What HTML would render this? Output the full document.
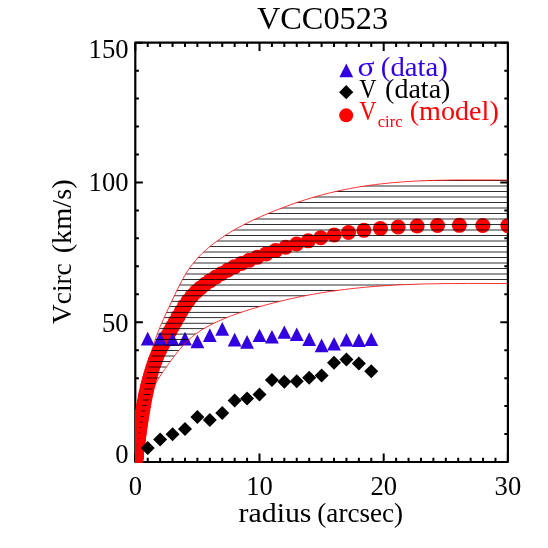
<!DOCTYPE html><html><head><meta charset="utf-8"><title>VCC0523</title><style>html,body{margin:0;padding:0;background:#fff;}svg{display:block;}text{font-family:"Liberation Serif",serif;}</style></head><body>
<svg style="will-change:transform" width="548" height="548" viewBox="0 0 548 548">
<rect width="548" height="548" fill="#fff"/>
<defs>
<clipPath id="box"><rect x="135.0" y="42.70" width="372.80" height="419.60"/></clipPath>
<clipPath id="env"><polygon points="135.67,458.95 135.68,458.88 135.69,458.82 135.70,458.76 135.71,458.69 135.72,458.62 135.73,458.54 135.74,458.46 135.75,458.38 135.76,458.29 135.77,458.19 135.78,458.09 135.79,457.99 135.80,457.87 135.81,457.76 135.83,457.63 135.84,457.51 135.85,457.37 135.86,457.23 135.88,457.09 135.89,456.94 135.91,456.79 135.92,456.63 135.93,456.46 135.95,456.30 135.96,456.13 135.98,455.95 136.00,455.77 136.01,455.59 136.03,455.40 136.05,455.21 136.06,455.01 136.08,454.82 136.10,454.62 136.12,454.41 136.14,454.20 136.16,454.00 136.18,453.78 136.20,453.57 136.22,453.35 136.24,453.13 136.26,452.91 136.28,452.69 136.31,452.46 136.33,452.23 136.35,452.00 136.38,451.77 136.40,451.54 136.43,451.30 136.46,451.06 136.48,450.81 136.51,450.57 136.54,450.31 136.57,450.05 136.60,449.79 136.63,449.51 136.66,449.23 136.69,448.94 136.72,448.64 136.76,448.34 136.79,448.02 136.83,447.70 136.86,447.36 136.90,447.02 136.93,446.67 136.97,446.31 137.01,445.94 137.05,445.56 137.09,445.17 137.13,444.78 137.18,444.38 137.22,443.97 137.27,443.55 137.31,443.13 137.36,442.70 137.41,442.26 137.46,441.82 137.51,441.36 137.56,440.90 137.61,440.43 137.67,439.95 137.72,439.46 137.78,438.96 137.84,438.45 137.89,437.92 137.96,437.39 138.02,436.83 138.08,436.27 138.15,435.69 138.21,435.10 138.28,434.49 138.35,433.87 138.42,433.23 138.49,432.58 138.57,431.92 138.65,431.25 138.72,430.56 138.80,429.86 138.89,429.15 138.97,428.42 139.05,427.68 139.14,426.93 139.23,426.16 139.32,425.38 139.42,424.58 139.51,423.77 139.61,422.94 139.71,422.10 139.82,421.24 139.92,420.37 140.03,419.48 140.14,418.57 140.25,417.65 140.37,416.71 140.49,415.75 140.61,414.78 140.73,413.79 140.86,412.78 140.99,411.75 141.12,410.71 141.26,409.65 141.40,408.58 141.54,407.49 141.69,406.38 141.84,405.26 141.99,404.12 142.15,402.96 142.31,401.79 142.47,400.59 142.64,399.38 142.81,398.15 142.98,396.90 143.16,395.63 143.35,394.34 143.54,393.04 143.73,391.72 143.93,390.38 144.13,389.03 144.33,387.67 144.54,386.30 144.76,384.92 144.98,383.53 145.21,382.14 145.44,380.75 145.68,379.35 145.92,377.96 146.17,376.56 146.42,375.16 146.68,373.76 146.95,372.36 147.22,370.96 147.50,369.56 147.78,368.16 148.07,366.75 148.37,365.35 148.68,363.94 148.99,362.52 149.31,361.10 149.64,359.68 149.97,358.25 150.32,356.82 150.67,355.39 151.03,353.95 151.40,352.52 151.77,351.10 152.16,349.68 152.55,348.27 152.95,346.86 153.37,345.47 153.79,344.08 154.22,342.70 154.66,341.33 155.12,339.97 155.58,338.61 156.05,337.26 156.54,335.91 157.03,334.57 157.54,333.22 158.06,331.88 158.59,330.53 159.14,329.18 159.69,327.82 160.26,326.45 160.85,325.08 161.45,323.69 162.06,322.29 162.68,320.88 163.32,319.44 163.98,317.99 164.65,316.51 165.33,315.01 166.03,313.48 166.75,311.92 167.49,310.32 168.24,308.70 169.01,307.04 169.80,305.35 170.60,303.62 171.43,301.85 172.27,300.06 173.14,298.22 174.02,296.36 174.93,294.46 175.85,292.54 176.80,290.59 177.77,288.62 178.76,286.64 179.78,284.65 180.82,282.67 181.88,280.68 182.97,278.71 184.09,276.76 185.23,274.82 186.39,272.92 187.59,271.05 188.81,269.21 190.06,267.41 191.34,265.65 192.65,263.93 193.99,262.25 195.36,260.61 196.77,259.00 198.20,257.42 199.67,255.87 201.18,254.35 202.72,252.86 204.29,251.39 205.90,249.94 207.56,248.51 209.24,247.09 210.97,245.69 212.74,244.29 214.55,242.91 216.40,241.53 218.30,240.16 220.24,238.79 222.22,237.43 224.25,236.07 226.33,234.72 228.46,233.37 230.64,232.03 232.87,230.70 235.15,229.38 237.48,228.07 239.87,226.77 242.31,225.47 244.81,224.18 247.37,222.90 249.99,221.62 252.67,220.34 255.42,219.06 258.22,217.79 261.10,216.51 264.04,215.22 267.05,213.94 270.13,212.65 273.28,211.36 276.50,210.07 279.80,208.78 283.18,207.48 286.63,206.19 290.17,204.90 293.79,203.62 297.50,202.34 301.29,201.08 305.17,199.82 309.14,198.58 313.20,197.36 317.36,196.17 321.61,195.00 325.97,193.86 330.42,192.74 334.98,191.67 339.65,190.63 344.43,189.63 349.31,188.66 354.31,187.75 359.43,186.87 364.67,186.05 370.03,185.27 375.52,184.55 381.13,183.87 386.88,183.26 392.76,182.69 398.78,182.19 404.93,181.74 411.24,181.34 417.68,181.00 424.28,180.72 431.04,180.49 437.95,180.30 445.02,180.16 452.26,180.07 459.67,180.00 467.25,179.97 475.01,179.97 482.95,179.98 491.08,180.01 499.39,180.05 507.90,180.09 507.90,283.53 499.39,283.51 491.08,283.49 482.95,283.48 475.01,283.48 467.25,283.48 459.67,283.51 452.26,283.55 445.02,283.62 437.95,283.71 431.04,283.83 424.28,283.98 417.68,284.16 411.24,284.38 404.93,284.62 398.78,284.91 392.76,285.23 386.88,285.58 381.13,285.96 375.52,286.38 370.03,286.83 364.67,287.31 359.43,287.81 354.31,288.35 349.31,288.91 344.43,289.50 339.65,290.11 334.98,290.74 330.42,291.40 325.97,292.08 321.61,292.78 317.36,293.50 313.20,294.23 309.14,294.99 305.17,295.75 301.29,296.53 297.50,297.32 293.79,298.11 290.17,298.92 286.63,299.73 283.18,300.54 279.80,301.35 276.50,302.17 273.28,302.99 270.13,303.80 267.05,304.62 264.04,305.43 261.10,306.25 258.22,307.06 255.42,307.87 252.67,308.68 249.99,309.49 247.37,310.30 244.81,311.12 242.31,311.93 239.87,312.76 237.48,313.58 235.15,314.42 232.87,315.25 230.64,316.10 228.46,316.95 226.33,317.80 224.25,318.66 222.22,319.52 220.24,320.38 218.30,321.25 216.40,322.12 214.55,323.00 212.74,323.87 210.97,324.76 209.24,325.65 207.56,326.55 205.90,327.46 204.29,328.38 202.72,329.31 201.18,330.26 199.67,331.23 198.20,332.21 196.77,333.22 195.36,334.24 193.99,335.29 192.65,336.36 191.34,337.46 190.06,338.57 188.81,339.71 187.59,340.86 186.39,342.03 185.23,343.22 184.09,344.41 182.97,345.61 181.88,346.82 180.82,348.04 179.78,349.25 178.76,350.48 177.77,351.70 176.80,352.92 175.85,354.13 174.93,355.34 174.02,356.53 173.14,357.71 172.27,358.88 171.43,360.03 170.60,361.15 169.80,362.26 169.01,363.34 168.24,364.41 167.49,365.45 166.75,366.47 166.03,367.47 165.33,368.45 164.65,369.42 163.98,370.37 163.32,371.30 162.68,372.23 162.06,373.14 161.45,374.05 160.85,374.95 160.26,375.85 159.69,376.74 159.14,377.64 158.59,378.53 158.06,379.43 157.54,380.33 157.03,381.23 156.54,382.13 156.05,383.04 155.58,383.96 155.12,384.88 154.66,385.81 154.22,386.74 153.79,387.67 153.37,388.61 152.95,389.56 152.55,390.51 152.16,391.46 151.77,392.41 151.40,393.36 151.03,394.32 150.67,395.27 150.32,396.21 149.97,397.15 149.64,398.08 149.31,399.01 148.99,399.92 148.68,400.83 148.37,401.73 148.07,402.63 147.78,403.51 147.50,404.40 147.22,405.28 146.95,406.16 146.68,407.03 146.42,407.91 146.17,408.78 145.92,409.65 145.68,410.52 145.44,411.39 145.21,412.26 144.98,413.13 144.76,413.99 144.54,414.85 144.33,415.70 144.13,416.55 143.93,417.39 143.73,418.22 143.54,419.05 143.35,419.86 143.16,420.66 142.98,421.45 142.81,422.23 142.64,423.00 142.47,423.75 142.31,424.50 142.15,425.23 141.99,425.95 141.84,426.66 141.69,427.36 141.54,428.05 141.40,428.73 141.26,429.40 141.12,430.05 140.99,430.70 140.86,431.34 140.73,431.97 140.61,432.59 140.49,433.19 140.37,433.79 140.25,434.38 140.14,434.95 140.03,435.52 139.92,436.07 139.82,436.61 139.71,437.15 139.61,437.67 139.51,438.19 139.42,438.69 139.32,439.19 139.23,439.68 139.14,440.15 139.05,440.62 138.97,441.08 138.89,441.54 138.80,441.98 138.72,442.42 138.65,442.84 138.57,443.26 138.49,443.68 138.42,444.08 138.35,444.48 138.28,444.86 138.21,445.24 138.15,445.61 138.08,445.97 138.02,446.33 137.96,446.67 137.89,447.00 137.84,447.33 137.78,447.65 137.72,447.96 137.67,448.27 137.61,448.57 137.56,448.86 137.51,449.15 137.46,449.43 137.41,449.71 137.36,449.98 137.31,450.25 137.27,450.51 137.22,450.77 137.18,451.02 137.13,451.27 137.09,451.52 137.05,451.76 137.01,452.00 136.97,452.23 136.93,452.45 136.90,452.67 136.86,452.88 136.83,453.09 136.79,453.29 136.76,453.49 136.72,453.68 136.69,453.87 136.66,454.05 136.63,454.22 136.60,454.39 136.57,454.56 136.54,454.72 136.51,454.88 136.48,455.03 136.46,455.19 136.43,455.34 136.40,455.48 136.38,455.63 136.35,455.77 136.33,455.92 136.31,456.06 136.28,456.20 136.26,456.34 136.24,456.48 136.22,456.61 136.20,456.75 136.18,456.88 136.16,457.01 136.14,457.14 136.12,457.27 136.10,457.40 136.08,457.53 136.06,457.65 136.05,457.77 136.03,457.89 136.01,458.01 136.00,458.12 135.98,458.23 135.96,458.34 135.95,458.45 135.93,458.55 135.92,458.65 135.91,458.75 135.89,458.85 135.88,458.94 135.86,459.03 135.85,459.12 135.84,459.20 135.83,459.28 135.81,459.36 135.80,459.43 135.79,459.50 135.78,459.57 135.77,459.63 135.76,459.69 135.75,459.74 135.74,459.80 135.73,459.85 135.72,459.89 135.71,459.94 135.70,459.98 135.69,460.02 135.68,460.06 135.67,460.10"/></clipPath>
</defs>
<g stroke="#000" fill="none" stroke-linecap="butt" stroke-linejoin="round">
<rect x="135.3" y="42.7" width="372.60" height="419.30" stroke-width="2.2"/>
<path d="M135.30 462.0v-8.4M135.30 42.7v8.4M147.72 462.0v-4.3M147.72 42.7v4.3M160.14 462.0v-4.3M160.14 42.7v4.3M172.56 462.0v-4.3M172.56 42.7v4.3M184.98 462.0v-4.3M184.98 42.7v4.3M197.40 462.0v-4.3M197.40 42.7v4.3M209.82 462.0v-4.3M209.82 42.7v4.3M222.24 462.0v-4.3M222.24 42.7v4.3M234.66 462.0v-4.3M234.66 42.7v4.3M247.08 462.0v-4.3M247.08 42.7v4.3M259.50 462.0v-8.4M259.50 42.7v8.4M271.92 462.0v-4.3M271.92 42.7v4.3M284.34 462.0v-4.3M284.34 42.7v4.3M296.76 462.0v-4.3M296.76 42.7v4.3M309.18 462.0v-4.3M309.18 42.7v4.3M321.60 462.0v-4.3M321.60 42.7v4.3M334.02 462.0v-4.3M334.02 42.7v4.3M346.44 462.0v-4.3M346.44 42.7v4.3M358.86 462.0v-4.3M358.86 42.7v4.3M371.28 462.0v-4.3M371.28 42.7v4.3M383.70 462.0v-8.4M383.70 42.7v8.4M396.12 462.0v-4.3M396.12 42.7v4.3M408.54 462.0v-4.3M408.54 42.7v4.3M420.96 462.0v-4.3M420.96 42.7v4.3M433.38 462.0v-4.3M433.38 42.7v4.3M445.80 462.0v-4.3M445.80 42.7v4.3M458.22 462.0v-4.3M458.22 42.7v4.3M470.64 462.0v-4.3M470.64 42.7v4.3M483.06 462.0v-4.3M483.06 42.7v4.3M495.48 462.0v-4.3M495.48 42.7v4.3M507.90 462.0v-8.4M507.90 42.7v8.4M135.3 462.00h7.6M507.9 462.00h-7.6M135.3 434.05h3.6M507.9 434.05h-3.6M135.3 406.09h3.6M507.9 406.09h-3.6M135.3 378.14h3.6M507.9 378.14h-3.6M135.3 350.19h3.6M507.9 350.19h-3.6M135.3 322.23h7.6M507.9 322.23h-7.6M135.3 294.28h3.6M507.9 294.28h-3.6M135.3 266.33h3.6M507.9 266.33h-3.6M135.3 238.37h3.6M507.9 238.37h-3.6M135.3 210.42h3.6M507.9 210.42h-3.6M135.3 182.47h7.6M507.9 182.47h-7.6M135.3 154.51h3.6M507.9 154.51h-3.6M135.3 126.56h3.6M507.9 126.56h-3.6M135.3 98.61h3.6M507.9 98.61h-3.6M135.3 70.65h3.6M507.9 70.65h-3.6M135.3 42.70h7.6M507.9 42.70h-7.6" stroke-width="2.0"/>
</g>
<g clip-path="url(#box)" fill="#ff0000">
<circle cx="135.67" cy="459.51" r="7.5"/>
<circle cx="135.70" cy="459.37" r="7.5"/>
<circle cx="135.73" cy="459.21" r="7.5"/>
<circle cx="135.76" cy="459.01" r="7.5"/>
<circle cx="135.79" cy="458.76" r="7.5"/>
<circle cx="135.83" cy="458.47" r="7.5"/>
<circle cx="135.87" cy="458.13" r="7.5"/>
<circle cx="135.91" cy="457.76" r="7.5"/>
<circle cx="135.95" cy="457.35" r="7.5"/>
<circle cx="136.00" cy="456.92" r="7.5"/>
<circle cx="136.05" cy="456.45" r="7.5"/>
<circle cx="136.10" cy="455.96" r="7.5"/>
<circle cx="136.16" cy="455.44" r="7.5"/>
<circle cx="136.22" cy="454.91" r="7.5"/>
<circle cx="136.29" cy="454.36" r="7.5"/>
<circle cx="136.36" cy="453.80" r="7.5"/>
<circle cx="136.44" cy="453.22" r="7.5"/>
<circle cx="136.52" cy="452.63" r="7.5"/>
<circle cx="136.61" cy="452.01" r="7.5"/>
<circle cx="136.70" cy="451.32" r="7.5"/>
<circle cx="136.80" cy="450.55" r="7.5"/>
<circle cx="136.91" cy="449.72" r="7.5"/>
<circle cx="137.03" cy="448.81" r="7.5"/>
<circle cx="137.15" cy="447.85" r="7.5"/>
<circle cx="137.29" cy="446.83" r="7.5"/>
<circle cx="137.43" cy="445.76" r="7.5"/>
<circle cx="137.59" cy="444.64" r="7.5"/>
<circle cx="137.75" cy="443.47" r="7.5"/>
<circle cx="137.93" cy="442.21" r="7.5"/>
<circle cx="138.12" cy="440.84" r="7.5"/>
<circle cx="138.32" cy="439.34" r="7.5"/>
<circle cx="138.54" cy="437.74" r="7.5"/>
<circle cx="138.77" cy="436.06" r="7.5"/>
<circle cx="139.03" cy="434.29" r="7.5"/>
<circle cx="139.30" cy="432.42" r="7.5"/>
<circle cx="139.58" cy="430.44" r="7.5"/>
<circle cx="139.89" cy="428.33" r="7.5"/>
<circle cx="140.23" cy="426.11" r="7.5"/>
<circle cx="140.58" cy="423.78" r="7.5"/>
<circle cx="140.96" cy="421.29" r="7.5"/>
<circle cx="141.37" cy="418.67" r="7.5"/>
<circle cx="141.81" cy="415.95" r="7.5"/>
<circle cx="142.28" cy="413.14" r="7.5"/>
<circle cx="142.79" cy="410.18" r="7.5"/>
<circle cx="143.33" cy="407.04" r="7.5"/>
<circle cx="143.91" cy="403.74" r="7.5"/>
<circle cx="144.53" cy="400.33" r="7.5"/>
<circle cx="145.20" cy="396.89" r="7.5"/>
<circle cx="145.91" cy="393.43" r="7.5"/>
<circle cx="146.68" cy="389.97" r="7.5"/>
<circle cx="147.50" cy="386.52" r="7.5"/>
<circle cx="148.38" cy="383.08" r="7.5"/>
<circle cx="149.33" cy="379.52" r="7.5"/>
<circle cx="150.34" cy="375.77" r="7.5"/>
<circle cx="151.43" cy="371.93" r="7.5"/>
<circle cx="152.59" cy="368.12" r="7.5"/>
<circle cx="153.84" cy="364.36" r="7.5"/>
<circle cx="155.18" cy="360.66" r="7.5"/>
<circle cx="156.62" cy="357.06" r="7.5"/>
<circle cx="158.16" cy="353.52" r="7.5"/>
<circle cx="159.81" cy="350.02" r="7.5"/>
<circle cx="161.59" cy="346.52" r="7.5"/>
<circle cx="163.49" cy="342.98" r="7.5"/>
<circle cx="165.52" cy="339.27" r="7.5"/>
<circle cx="167.71" cy="335.33" r="7.5"/>
<circle cx="170.05" cy="331.11" r="7.5"/>
<circle cx="172.56" cy="326.61" r="7.5"/>
<circle cx="175.25" cy="321.79" r="7.5"/>
<circle cx="178.14" cy="316.67" r="7.5"/>
<circle cx="181.24" cy="311.32" r="7.5"/>
<circle cx="184.56" cy="305.90" r="7.5"/>
<circle cx="188.12" cy="300.71" r="7.5"/>
<circle cx="191.93" cy="296.01" r="7.5"/>
<circle cx="196.02" cy="291.82" r="7.5"/>
<circle cx="200.41" cy="287.97" r="7.5"/>
<circle cx="205.12" cy="284.24" r="7.5"/>
<circle cx="210.16" cy="280.66" r="7.5"/>
<circle cx="215.57" cy="277.23" r="7.5"/>
<circle cx="221.38" cy="273.77" r="7.5"/>
<circle cx="227.60" cy="270.27" r="7.5"/>
<circle cx="234.27" cy="266.85" r="7.5"/>
<circle cx="241.42" cy="263.55" r="7.5"/>
<circle cx="249.09" cy="260.36" r="7.5"/>
<circle cx="257.31" cy="257.16" r="7.5"/>
<circle cx="266.13" cy="253.90" r="7.5"/>
<circle cx="275.58" cy="250.61" r="7.5"/>
<circle cx="285.72" cy="247.32" r="7.5"/>
<circle cx="296.59" cy="244.05" r="7.5"/>
<circle cx="308.25" cy="240.83" r="7.5"/>
<circle cx="320.74" cy="237.81" r="7.5"/>
<circle cx="334.15" cy="235.05" r="7.5"/>
<circle cx="348.52" cy="232.56" r="7.5"/>
<circle cx="363.92" cy="230.35" r="7.5"/>
<circle cx="380.45" cy="228.50" r="7.5"/>
<circle cx="398.16" cy="227.04" r="7.5"/>
<circle cx="417.16" cy="226.02" r="7.5"/>
<circle cx="437.53" cy="225.49" r="7.5"/>
<circle cx="459.37" cy="225.34" r="7.5"/>
<circle cx="482.79" cy="225.44" r="7.5"/>
<circle cx="507.90" cy="225.65" r="7.5"/>
</g>
<g fill="#3200e0">
<path d="M147.72 331.80L154.62 345.40H140.82Z"/>
<path d="M160.14 331.80L167.04 345.40H153.24Z"/>
<path d="M172.56 332.70L179.46 345.90H165.66Z"/>
<path d="M184.98 331.80L191.88 345.40H178.08Z"/>
<path d="M197.40 334.60L204.30 348.30H190.50Z"/>
<path d="M209.82 328.20L216.72 341.90H202.92Z"/>
<path d="M222.24 322.00L229.14 335.70H215.34Z"/>
<path d="M234.66 332.70L241.56 346.40H227.76Z"/>
<path d="M247.08 335.10L253.98 348.70H240.18Z"/>
<path d="M259.50 328.70L266.40 341.90H252.60Z"/>
<path d="M271.92 329.90L278.82 343.50H265.02Z"/>
<path d="M284.34 325.60L291.24 338.80H277.44Z"/>
<path d="M296.76 327.50L303.66 341.10H289.86Z"/>
<path d="M309.18 332.20L316.08 345.90H302.28Z"/>
<path d="M321.60 338.60L328.50 352.30H314.70Z"/>
<path d="M334.02 337.00L340.92 350.60H327.12Z"/>
<path d="M346.44 332.90L353.34 346.60H339.54Z"/>
<path d="M358.86 333.20L365.76 346.90H351.96Z"/>
<path d="M371.28 332.60L378.18 346.00H364.38Z"/>
</g>
<g fill="#000">
<path d="M147.72 440.90L154.72 447.90L147.72 454.90L140.72 447.90Z"/>
<path d="M160.14 432.50L167.14 439.50L160.14 446.50L153.14 439.50Z"/>
<path d="M172.56 427.30L179.56 434.30L172.56 441.30L165.56 434.30Z"/>
<path d="M184.98 421.90L191.98 428.90L184.98 435.90L177.98 428.90Z"/>
<path d="M197.40 410.00L204.40 417.00L197.40 424.00L190.40 417.00Z"/>
<path d="M209.82 413.00L216.82 420.00L209.82 427.00L202.82 420.00Z"/>
<path d="M222.24 406.00L229.24 413.00L222.24 420.00L215.24 413.00Z"/>
<path d="M234.66 393.40L241.66 400.40L234.66 407.40L227.66 400.40Z"/>
<path d="M247.08 391.40L254.08 398.40L247.08 405.40L240.08 398.40Z"/>
<path d="M259.50 387.40L266.50 394.40L259.50 401.40L252.50 394.40Z"/>
<path d="M271.92 373.10L278.92 380.10L271.92 387.10L264.92 380.10Z"/>
<path d="M284.34 374.80L291.34 381.80L284.34 388.80L277.34 381.80Z"/>
<path d="M296.76 374.30L303.76 381.30L296.76 388.30L289.76 381.30Z"/>
<path d="M309.18 370.70L316.18 377.70L309.18 384.70L302.18 377.70Z"/>
<path d="M321.60 368.40L328.60 375.40L321.60 382.40L314.60 375.40Z"/>
<path d="M334.02 355.80L341.02 362.80L334.02 369.80L327.02 362.80Z"/>
<path d="M346.44 352.50L353.44 359.50L346.44 366.50L339.44 359.50Z"/>
<path d="M358.86 356.50L365.86 363.50L358.86 370.50L351.86 363.50Z"/>
<path d="M371.28 364.30L378.28 371.30L371.28 378.30L364.28 371.30Z"/>
</g>
<g clip-path="url(#env)"><g clip-path="url(#box)"><path stroke="#000" stroke-width="0.82" fill="none" d="
M130 180.50H512M130 186.00H512M130 191.50H512M130 197.00H512M130 202.50H512M130 208.00H512M130 213.50H512M130 219.00H512M130 224.50H512M130 230.00H512M130 235.50H512M130 241.00H512M130 246.50H512M130 252.00H512M130 257.50H512M130 263.00H512M130 268.50H512M130 274.00H512M130 279.50H512M130 285.00H512M130 290.50H512M130 295.75H512M130 301.35H512M130 306.50H512M130 312.40H512M130 317.60H512M130 323.30H512M130 328.60H512M130 334.10H512M130 339.50H512M130 345.10H512M130 350.50H512M130 356.00H512M130 361.50H512M130 367.00H512M130 372.50H512M130 378.00H512M130 383.50H512M130 389.00H512M130 394.50H512M130 400.00H512M130 405.50H512M130 411.00H512M130 416.50H512M130 422.00H512M130 427.50H512M130 433.00H512M130 438.50H512M130 444.00H512M130 449.50H512M130 455.00H512M130 460.50H512"/></g></g>
<g clip-path="url(#box)" fill="none" stroke="#ff0000" stroke-width="0.8"><polyline points="135.67,458.95 135.68,458.88 135.69,458.82 135.70,458.76 135.71,458.69 135.72,458.62 135.73,458.54 135.74,458.46 135.75,458.38 135.76,458.29 135.77,458.19 135.78,458.09 135.79,457.99 135.80,457.87 135.81,457.76 135.83,457.63 135.84,457.51 135.85,457.37 135.86,457.23 135.88,457.09 135.89,456.94 135.91,456.79 135.92,456.63 135.93,456.46 135.95,456.30 135.96,456.13 135.98,455.95 136.00,455.77 136.01,455.59 136.03,455.40 136.05,455.21 136.06,455.01 136.08,454.82 136.10,454.62 136.12,454.41 136.14,454.20 136.16,454.00 136.18,453.78 136.20,453.57 136.22,453.35 136.24,453.13 136.26,452.91 136.28,452.69 136.31,452.46 136.33,452.23 136.35,452.00 136.38,451.77 136.40,451.54 136.43,451.30 136.46,451.06 136.48,450.81 136.51,450.57 136.54,450.31 136.57,450.05 136.60,449.79 136.63,449.51 136.66,449.23 136.69,448.94 136.72,448.64 136.76,448.34 136.79,448.02 136.83,447.70 136.86,447.36 136.90,447.02 136.93,446.67 136.97,446.31 137.01,445.94 137.05,445.56 137.09,445.17 137.13,444.78 137.18,444.38 137.22,443.97 137.27,443.55 137.31,443.13 137.36,442.70 137.41,442.26 137.46,441.82 137.51,441.36 137.56,440.90 137.61,440.43 137.67,439.95 137.72,439.46 137.78,438.96 137.84,438.45 137.89,437.92 137.96,437.39 138.02,436.83 138.08,436.27 138.15,435.69 138.21,435.10 138.28,434.49 138.35,433.87 138.42,433.23 138.49,432.58 138.57,431.92 138.65,431.25 138.72,430.56 138.80,429.86 138.89,429.15 138.97,428.42 139.05,427.68 139.14,426.93 139.23,426.16 139.32,425.38 139.42,424.58 139.51,423.77 139.61,422.94 139.71,422.10 139.82,421.24 139.92,420.37 140.03,419.48 140.14,418.57 140.25,417.65 140.37,416.71 140.49,415.75 140.61,414.78 140.73,413.79 140.86,412.78 140.99,411.75 141.12,410.71 141.26,409.65 141.40,408.58 141.54,407.49 141.69,406.38 141.84,405.26 141.99,404.12 142.15,402.96 142.31,401.79 142.47,400.59 142.64,399.38 142.81,398.15 142.98,396.90 143.16,395.63 143.35,394.34 143.54,393.04 143.73,391.72 143.93,390.38 144.13,389.03 144.33,387.67 144.54,386.30 144.76,384.92 144.98,383.53 145.21,382.14 145.44,380.75 145.68,379.35 145.92,377.96 146.17,376.56 146.42,375.16 146.68,373.76 146.95,372.36 147.22,370.96 147.50,369.56 147.78,368.16 148.07,366.75 148.37,365.35 148.68,363.94 148.99,362.52 149.31,361.10 149.64,359.68 149.97,358.25 150.32,356.82 150.67,355.39 151.03,353.95 151.40,352.52 151.77,351.10 152.16,349.68 152.55,348.27 152.95,346.86 153.37,345.47 153.79,344.08 154.22,342.70 154.66,341.33 155.12,339.97 155.58,338.61 156.05,337.26 156.54,335.91 157.03,334.57 157.54,333.22 158.06,331.88 158.59,330.53 159.14,329.18 159.69,327.82 160.26,326.45 160.85,325.08 161.45,323.69 162.06,322.29 162.68,320.88 163.32,319.44 163.98,317.99 164.65,316.51 165.33,315.01 166.03,313.48 166.75,311.92 167.49,310.32 168.24,308.70 169.01,307.04 169.80,305.35 170.60,303.62 171.43,301.85 172.27,300.06 173.14,298.22 174.02,296.36 174.93,294.46 175.85,292.54 176.80,290.59 177.77,288.62 178.76,286.64 179.78,284.65 180.82,282.67 181.88,280.68 182.97,278.71 184.09,276.76 185.23,274.82 186.39,272.92 187.59,271.05 188.81,269.21 190.06,267.41 191.34,265.65 192.65,263.93 193.99,262.25 195.36,260.61 196.77,259.00 198.20,257.42 199.67,255.87 201.18,254.35 202.72,252.86 204.29,251.39 205.90,249.94 207.56,248.51 209.24,247.09 210.97,245.69 212.74,244.29 214.55,242.91 216.40,241.53 218.30,240.16 220.24,238.79 222.22,237.43 224.25,236.07 226.33,234.72 228.46,233.37 230.64,232.03 232.87,230.70 235.15,229.38 237.48,228.07 239.87,226.77 242.31,225.47 244.81,224.18 247.37,222.90 249.99,221.62 252.67,220.34 255.42,219.06 258.22,217.79 261.10,216.51 264.04,215.22 267.05,213.94 270.13,212.65 273.28,211.36 276.50,210.07 279.80,208.78 283.18,207.48 286.63,206.19 290.17,204.90 293.79,203.62 297.50,202.34 301.29,201.08 305.17,199.82 309.14,198.58 313.20,197.36 317.36,196.17 321.61,195.00 325.97,193.86 330.42,192.74 334.98,191.67 339.65,190.63 344.43,189.63 349.31,188.66 354.31,187.75 359.43,186.87 364.67,186.05 370.03,185.27 375.52,184.55 381.13,183.87 386.88,183.26 392.76,182.69 398.78,182.19 404.93,181.74 411.24,181.34 417.68,181.00 424.28,180.72 431.04,180.49 437.95,180.30 445.02,180.16 452.26,180.07 459.67,180.00 467.25,179.97 475.01,179.97 482.95,179.98 491.08,180.01 499.39,180.05 507.90,180.09"/><polyline points="135.67,460.10 135.68,460.06 135.69,460.02 135.70,459.98 135.71,459.94 135.72,459.89 135.73,459.85 135.74,459.80 135.75,459.74 135.76,459.69 135.77,459.63 135.78,459.57 135.79,459.50 135.80,459.43 135.81,459.36 135.83,459.28 135.84,459.20 135.85,459.12 135.86,459.03 135.88,458.94 135.89,458.85 135.91,458.75 135.92,458.65 135.93,458.55 135.95,458.45 135.96,458.34 135.98,458.23 136.00,458.12 136.01,458.01 136.03,457.89 136.05,457.77 136.06,457.65 136.08,457.53 136.10,457.40 136.12,457.27 136.14,457.14 136.16,457.01 136.18,456.88 136.20,456.75 136.22,456.61 136.24,456.48 136.26,456.34 136.28,456.20 136.31,456.06 136.33,455.92 136.35,455.77 136.38,455.63 136.40,455.48 136.43,455.34 136.46,455.19 136.48,455.03 136.51,454.88 136.54,454.72 136.57,454.56 136.60,454.39 136.63,454.22 136.66,454.05 136.69,453.87 136.72,453.68 136.76,453.49 136.79,453.29 136.83,453.09 136.86,452.88 136.90,452.67 136.93,452.45 136.97,452.23 137.01,452.00 137.05,451.76 137.09,451.52 137.13,451.27 137.18,451.02 137.22,450.77 137.27,450.51 137.31,450.25 137.36,449.98 137.41,449.71 137.46,449.43 137.51,449.15 137.56,448.86 137.61,448.57 137.67,448.27 137.72,447.96 137.78,447.65 137.84,447.33 137.89,447.00 137.96,446.67 138.02,446.33 138.08,445.97 138.15,445.61 138.21,445.24 138.28,444.86 138.35,444.48 138.42,444.08 138.49,443.68 138.57,443.26 138.65,442.84 138.72,442.42 138.80,441.98 138.89,441.54 138.97,441.08 139.05,440.62 139.14,440.15 139.23,439.68 139.32,439.19 139.42,438.69 139.51,438.19 139.61,437.67 139.71,437.15 139.82,436.61 139.92,436.07 140.03,435.52 140.14,434.95 140.25,434.38 140.37,433.79 140.49,433.19 140.61,432.59 140.73,431.97 140.86,431.34 140.99,430.70 141.12,430.05 141.26,429.40 141.40,428.73 141.54,428.05 141.69,427.36 141.84,426.66 141.99,425.95 142.15,425.23 142.31,424.50 142.47,423.75 142.64,423.00 142.81,422.23 142.98,421.45 143.16,420.66 143.35,419.86 143.54,419.05 143.73,418.22 143.93,417.39 144.13,416.55 144.33,415.70 144.54,414.85 144.76,413.99 144.98,413.13 145.21,412.26 145.44,411.39 145.68,410.52 145.92,409.65 146.17,408.78 146.42,407.91 146.68,407.03 146.95,406.16 147.22,405.28 147.50,404.40 147.78,403.51 148.07,402.63 148.37,401.73 148.68,400.83 148.99,399.92 149.31,399.01 149.64,398.08 149.97,397.15 150.32,396.21 150.67,395.27 151.03,394.32 151.40,393.36 151.77,392.41 152.16,391.46 152.55,390.51 152.95,389.56 153.37,388.61 153.79,387.67 154.22,386.74 154.66,385.81 155.12,384.88 155.58,383.96 156.05,383.04 156.54,382.13 157.03,381.23 157.54,380.33 158.06,379.43 158.59,378.53 159.14,377.64 159.69,376.74 160.26,375.85 160.85,374.95 161.45,374.05 162.06,373.14 162.68,372.23 163.32,371.30 163.98,370.37 164.65,369.42 165.33,368.45 166.03,367.47 166.75,366.47 167.49,365.45 168.24,364.41 169.01,363.34 169.80,362.26 170.60,361.15 171.43,360.03 172.27,358.88 173.14,357.71 174.02,356.53 174.93,355.34 175.85,354.13 176.80,352.92 177.77,351.70 178.76,350.48 179.78,349.25 180.82,348.04 181.88,346.82 182.97,345.61 184.09,344.41 185.23,343.22 186.39,342.03 187.59,340.86 188.81,339.71 190.06,338.57 191.34,337.46 192.65,336.36 193.99,335.29 195.36,334.24 196.77,333.22 198.20,332.21 199.67,331.23 201.18,330.26 202.72,329.31 204.29,328.38 205.90,327.46 207.56,326.55 209.24,325.65 210.97,324.76 212.74,323.87 214.55,323.00 216.40,322.12 218.30,321.25 220.24,320.38 222.22,319.52 224.25,318.66 226.33,317.80 228.46,316.95 230.64,316.10 232.87,315.25 235.15,314.42 237.48,313.58 239.87,312.76 242.31,311.93 244.81,311.12 247.37,310.30 249.99,309.49 252.67,308.68 255.42,307.87 258.22,307.06 261.10,306.25 264.04,305.43 267.05,304.62 270.13,303.80 273.28,302.99 276.50,302.17 279.80,301.35 283.18,300.54 286.63,299.73 290.17,298.92 293.79,298.11 297.50,297.32 301.29,296.53 305.17,295.75 309.14,294.99 313.20,294.23 317.36,293.50 321.61,292.78 325.97,292.08 330.42,291.40 334.98,290.74 339.65,290.11 344.43,289.50 349.31,288.91 354.31,288.35 359.43,287.81 364.67,287.31 370.03,286.83 375.52,286.38 381.13,285.96 386.88,285.58 392.76,285.23 398.78,284.91 404.93,284.62 411.24,284.38 417.68,284.16 424.28,283.98 431.04,283.83 437.95,283.71 445.02,283.62 452.26,283.55 459.67,283.51 467.25,283.48 475.01,283.48 482.95,283.48 491.08,283.49 499.39,283.51 507.90,283.53"/></g>
<path fill="#3200e0" d="M346.3 63.6L353.2 77.3H339.4Z"/>
<path fill="#000" d="M346.2 85.0L353.3 92.15L346.2 99.3L339.1 92.15Z"/>
<circle fill="#ff0000" cx="346.2" cy="115.35" r="7"/>
<text x="256.9" y="29.4" font-size="32.5" fill="#000" text-anchor="start" textLength="131.23" lengthAdjust="spacingAndGlyphs">VCC0523</text>
<text x="357.6" y="75.6" font-size="26.6" fill="#3200e0" text-anchor="start" textLength="17.02" lengthAdjust="spacingAndGlyphs">σ</text>
<text x="380.85" y="75.6" font-size="26.6" fill="#3200e0" text-anchor="start" textLength="66.98" lengthAdjust="spacingAndGlyphs">(data)</text>
<text x="359.35" y="98.4" font-size="26.6" fill="#000" text-anchor="start" textLength="17.23" lengthAdjust="spacingAndGlyphs">V</text>
<text x="385.1" y="98.4" font-size="26.6" fill="#000" text-anchor="start" textLength="65.33" lengthAdjust="spacingAndGlyphs">(data)</text>
<text x="359.35" y="120.3" font-size="26.6" fill="#ff0000" text-anchor="start" textLength="17.23" lengthAdjust="spacingAndGlyphs">V</text>
<text x="377.65" y="126.8" font-size="16.5" fill="#ff0000" text-anchor="start" textLength="24.95" lengthAdjust="spacingAndGlyphs">circ</text>
<text x="409.65" y="120.3" font-size="26.6" fill="#ff0000" text-anchor="start" textLength="89.12" lengthAdjust="spacingAndGlyphs">(model)</text>
<text x="238.55" y="521.5" font-size="26.6" fill="#000" text-anchor="start" textLength="72.93" lengthAdjust="spacingAndGlyphs">radius</text>
<text x="317.35" y="521.5" font-size="26.6" fill="#000" text-anchor="start" textLength="85.78" lengthAdjust="spacingAndGlyphs">(arcsec)</text>
<text transform="rotate(-90)" x="-323.95" y="70.8" font-size="26.6" textLength="60.69" lengthAdjust="spacingAndGlyphs">Vcirc</text>
<text transform="rotate(-90)" x="-253.35" y="70.8" font-size="26.6" textLength="73.93" lengthAdjust="spacingAndGlyphs">(km/s)</text>
<text x="88.6" y="58.2" font-size="26.6" fill="#000" text-anchor="start" textLength="39.9" lengthAdjust="spacingAndGlyphs">150</text>
<text x="88.6" y="191.0" font-size="26.6" fill="#000" text-anchor="start" textLength="39.9" lengthAdjust="spacingAndGlyphs">100</text>
<text x="101.9" y="331.8" font-size="26.6" fill="#000" text-anchor="start" textLength="26.6" lengthAdjust="spacingAndGlyphs">50</text>
<text x="115.2" y="462.5" font-size="26.6" fill="#000" text-anchor="start" textLength="13.3" lengthAdjust="spacingAndGlyphs">0</text>
<text x="128.65" y="495.2" font-size="26.6" fill="#000" text-anchor="start" textLength="13.3" lengthAdjust="spacingAndGlyphs">0</text>
<text x="246.2" y="495.2" font-size="26.6" fill="#000" text-anchor="start" textLength="26.6" lengthAdjust="spacingAndGlyphs">10</text>
<text x="370.4" y="495.2" font-size="26.6" fill="#000" text-anchor="start" textLength="26.6" lengthAdjust="spacingAndGlyphs">20</text>
<text x="494.6" y="495.2" font-size="26.6" fill="#000" text-anchor="start" textLength="26.6" lengthAdjust="spacingAndGlyphs">30</text>
</svg></body></html>
